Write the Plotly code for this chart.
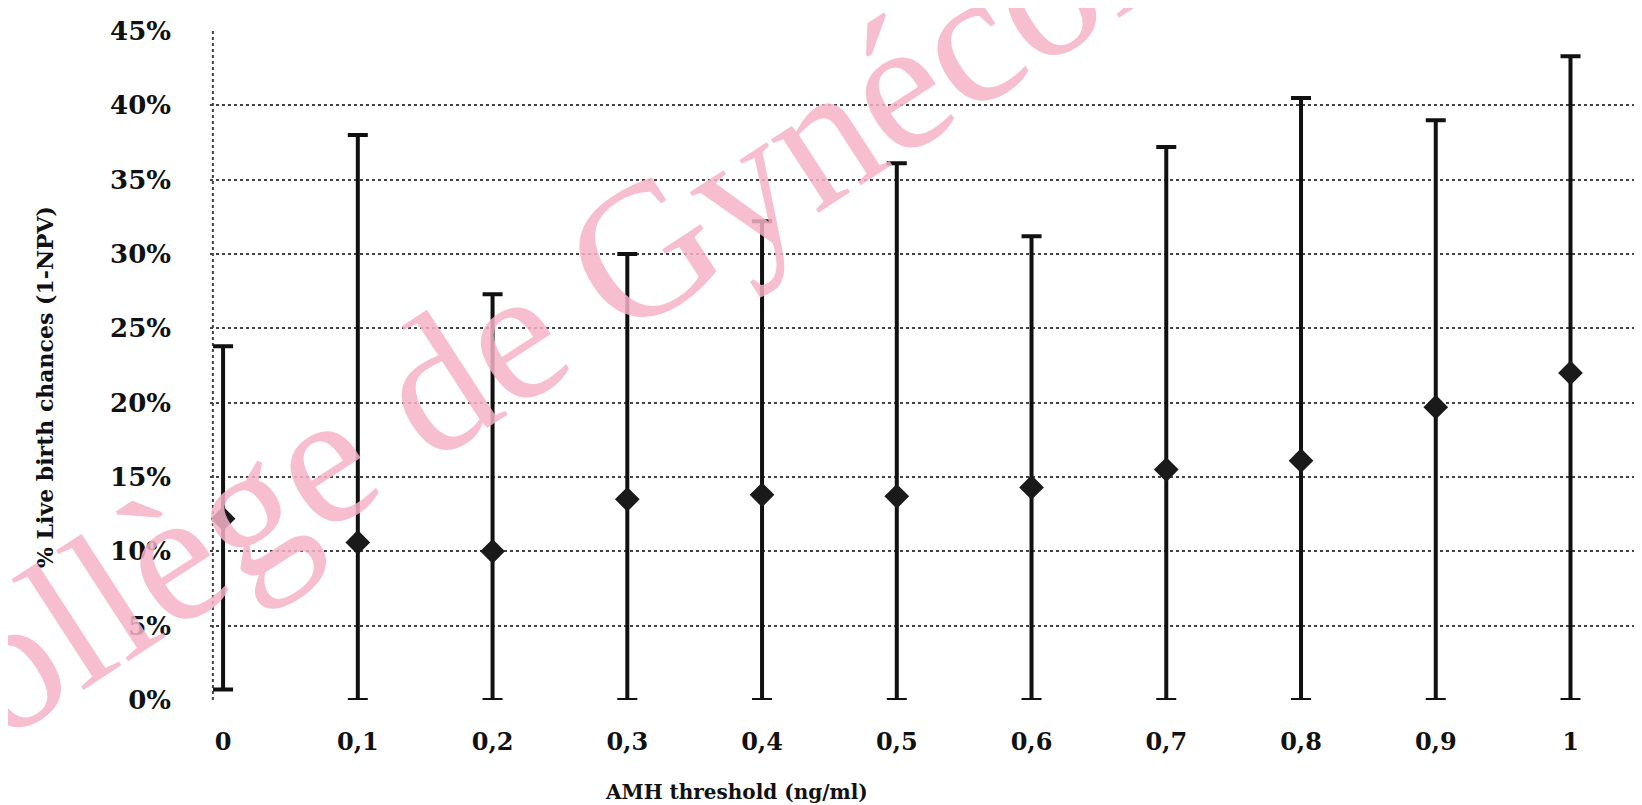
import plotly.graph_objects as go

# Data
amh_threshold = [0, 0.1, 0.2, 0.3, 0.4, 0.5, 0.6, 0.7, 0.8, 0.9, 1.0]
tick_labels = ["0", "0,1", "0,2", "0,3", "0,4", "0,5", "0,6", "0,7", "0,8", "0,9", "1"]
live_birth = [0.122, 0.106, 0.100, 0.135, 0.138, 0.137, 0.143, 0.155, 0.161, 0.197, 0.220]
ci_upper = [0.238, 0.380, 0.273, 0.300, 0.322, 0.361, 0.312, 0.372, 0.405, 0.390, 0.433]
ci_lower = [0.007, 0.0, 0.0, 0.0, 0.0, 0.0, 0.0, 0.0, 0.0, 0.0, 0.0]
y_ticks = [0, 0.05, 0.10, 0.15, 0.20, 0.25, 0.30, 0.35, 0.40, 0.45]
y_tick_labels = ["0%", "5%", "10%", "15%", "20%", "25%", "30%", "35%", "40%", "45%"]

err_plus = [u - v for u, v in zip(ci_upper, live_birth)]
err_minus = [v - l for v, l in zip(live_birth, ci_lower)]

W, H = 1642, 805
L, R, T, B = 202, 0, 23, 113

FONT = "DejaVu Serif"

fig = go.Figure()
fig.add_trace(go.Scatter(
    x=amh_threshold, y=live_birth, mode="markers",
    marker=dict(symbol="diamond", size=19, color="#1a1a1a"),
    error_y=dict(type="data", symmetric=False, array=err_plus, arrayminus=err_minus,
                 color="#111111", thickness=4, width=10),
    showlegend=False, cliponaxis=False,
))

fig.update_layout(
    width=W, height=H,
    margin=dict(l=L, r=R, t=T, b=B),
    paper_bgcolor="white", plot_bgcolor="white",
    font=dict(family=FONT, color="#111111"),
    xaxis=dict(
        range=[-0.0097, 1.059], tickmode="array", tickvals=amh_threshold, ticktext=tick_labels,
        showgrid=False, zeroline=False, showline=False,
        tickfont=dict(family=FONT, size=24, color="#111111", weight="bold"),
        ticks="", ticklabelstandoff=25,
    ),
    yaxis=dict(
        range=[0, 0.45], tickmode="array", tickvals=y_ticks, ticktext=y_tick_labels,
        showgrid=True, gridcolor="#444444", gridwidth=2, griddash="dot",
        zeroline=False, showline=False,
        tickfont=dict(family=FONT, size=26, color="#111111", weight="bold"),
        ticks="", ticklabelstandoff=38,
    ),
)

# dotted vertical axis line on the left
fig.add_shape(type="line", xref="paper", yref="paper", x0=0.002, x1=0.002, y0=0, y1=1,
              line=dict(color="#444444", width=2, dash="dot"), layer="below")

plot_w = W - L - R
plot_h = H - T - B

def px_to_paper(px, py):
    return (px - L) / plot_w, (H - B - py) / plot_h

# axis titles
tx, ty = px_to_paper(728, 784)
fig.add_annotation(text="AMH threshold (ng/ml)", xref="paper", yref="paper", x=tx, y=ty,
                   xanchor="center", yanchor="middle",
                   showarrow=False, font=dict(family=FONT, size=20, color="#111111", weight="bold"))
tx, ty = px_to_paper(37, 379)
fig.add_annotation(text="% Live birth chances (1-NPV)", xref="paper", yref="paper", x=tx, y=ty,
                   xanchor="center", yanchor="middle",
                   textangle=-90, showarrow=False,
                   font=dict(family=FONT, size=22, color="#111111", weight="bold"))

# watermark
wx, wy = px_to_paper(622, 252)
fig.add_annotation(text="Collège de Gynécologie", xref="paper", yref="paper", x=wx, y=wy,
                   xanchor="center", yanchor="middle",
                   textangle=-33, showarrow=False, opacity=0.85,
                   font=dict(family="Liberation Serif", size=190, color="#f5b3c6"))

fig.write_html("out.html")
